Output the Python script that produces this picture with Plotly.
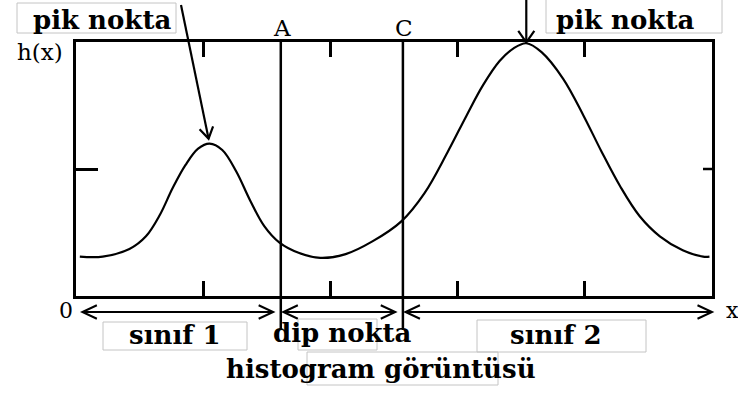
import math
import plotly.graph_objects as go

# ---- data -------------------------------------------------------------
curve_x = [0.03, 0.21, 0.42, 0.55, 0.66, 0.76, 0.86, 0.96, 1.05, 1.15, 1.26,
           1.37, 1.48, 1.60, 1.75, 1.92, 2.12, 2.33, 2.56, 2.74, 2.92, 3.07,
           3.20, 3.33, 3.44, 3.54, 3.66, 3.83, 3.99, 4.13, 4.28, 4.43, 4.59,
           4.77, 4.93, 4.98]
curve_h = [0.31, 0.31, 0.37, 0.47, 0.64, 0.85, 1.03, 1.16, 1.20, 1.15, 0.98,
           0.75, 0.55, 0.42, 0.34, 0.30, 0.33, 0.43, 0.59, 0.81, 1.13, 1.42,
           1.66, 1.85, 1.95, 1.99, 1.92, 1.71, 1.42, 1.14, 0.86, 0.63, 0.47,
           0.36, 0.31, 0.31]
x_ticks = [1, 2, 3, 4]
y_ticks = [1]
thresholds = [1.61, 2.57]
threshold_names = ["A", "C"]
class_spans = [(0.05, 1.55), (1.63, 2.51), (2.59, 5.0)]
class_names = ["sınıf 1", "dip nokta", "sınıf 2"]

X_RANGE = (0, 5)
Y_RANGE = (0, 2)

# ---- layout geometry (pixels) -----------------------------------------
W, H = 738, 394
L, R, T, B = 76, 712, 42, 296


def pix(x, y):
    """data -> pixel"""
    return (L + (x - X_RANGE[0]) / (X_RANGE[1] - X_RANGE[0]) * (R - L),
            B - (y - Y_RANGE[0]) / (Y_RANGE[1] - Y_RANGE[0]) * (B - T))


def paper(px, py):
    """pixel -> paper"""
    return (px - L) / (R - L), (B - py) / (B - T)


def pp(px, py):
    a, b = paper(px, py)
    return f"{a:.5f},{b:.5f}"


def chevron(tip, back, size=14, spread=28):
    """open V arrow head at tip, pointing away from back (pixel coords)"""
    dx, dy = back[0] - tip[0], back[1] - tip[1]
    n = math.hypot(dx, dy)
    ux, uy = dx / n, dy / n
    pts = []
    for s in (-1, 1):
        a = math.radians(spread * s)
        rx = ux * math.cos(a) - uy * math.sin(a)
        ry = ux * math.sin(a) + uy * math.cos(a)
        pts.append((tip[0] + rx * size, tip[1] + ry * size))
    return f"M {pp(*pts[0])} L {pp(*tip)} L {pp(*pts[1])}"


shapes = []


def seg(p0, p1, width=2):
    a = paper(*p0)
    b = paper(*p1)
    shapes.append(dict(type="line", xref="paper", yref="paper",
                       x0=a[0], y0=a[1], x1=b[0], y1=b[1],
                       line=dict(color="black", width=width)))


def head(tip, back, size=14, spread=28, width=2):
    shapes.append(dict(type="path", xref="paper", yref="paper",
                       path=chevron(tip, back, size, spread),
                       line=dict(color="black", width=width)))


def box(x0, y0, x1, y1):
    a = paper(x0, y1)
    b = paper(x1, y0)
    shapes.append(dict(type="rect", xref="paper", yref="paper",
                       x0=a[0], y0=a[1], x1=b[0], y1=b[1],
                       line=dict(color="#c4c4c4", width=1),
                       fillcolor="rgba(0,0,0,0)"))


# threshold lines A and C (run past the frame down through the class arrows)
for t in thresholds:
    xt, _ = pix(t, 0)
    seg((xt, T), (xt, 330), width=2.5)

# right-hand tick on the h(x) axis
for v in y_ticks:
    _, yv = pix(0, v)
    seg((R, yv), (R - 9, yv), width=2.5)

# class double arrows under the axis
arrow_y = 312
for a, b in class_spans:
    xa, _ = pix(a, 0)
    xb, _ = pix(b, 0)
    seg((xa, arrow_y), (xb, arrow_y), width=2)
    head((xa, arrow_y), (xb, arrow_y), size=16, spread=25)
    head((xb, arrow_y), (xa, arrow_y), size=16, spread=25)

# peak pointers
first = [i for i, x in enumerate(curve_x) if x < thresholds[0]]
i1 = max(first, key=lambda i: curve_h[i])
i2 = max(range(len(curve_h)), key=lambda i: curve_h[i])
tip1 = pix(curve_x[i1], curve_h[i1])
tip1 = (tip1[0] - 1, tip1[1] - 5)
start1 = (181, 5)
seg(start1, tip1, width=2.2)
head(tip1, start1, size=13, spread=32, width=2.2)

tip2 = pix(curve_x[i2], curve_h[i2])
tip2 = (tip2[0], tip2[1] - 1)
start2 = (tip2[0], -4)
seg(start2, tip2, width=2.2)
head(tip2, start2, size=14, spread=35, width=2.2)

# label boxes
box(17, 3, 176, 33)
box(546, -3, 722, 33)
box(103, 322, 247, 350)
box(298, 319, 377, 350)
box(477, 320, 646, 352)
box(307, 352, 498, 385)

# ---- text -------------------------------------------------------------
annotations = []


def label(text, px, py, size, bold=False):
    x, y = paper(px, py)
    annotations.append(dict(
        text=f"<b>{text}</b>" if bold else text,
        x=x, y=y, xref="paper", yref="paper",
        xanchor="center", yanchor="middle", showarrow=False,
        font=dict(family="DejaVu Serif", size=size, color="black")))


label("pik nokta", 102, 20, 26, bold=True)
label("pik nokta", 625, 20, 26, bold=True)
for t, name in zip(thresholds, threshold_names):
    xt, _ = pix(t, 0)
    label(name, xt + 1, 28, 23)
label("h(x)", 40, 52, 23)
label("0", 66, 310, 22)
label("x", 732, 310, 22)
label(class_names[0], 175, 335, 26, bold=True)
label(class_names[1], 342, 333, 26, bold=True)
label(class_names[2], 556, 335, 26, bold=True)
label("histogram görüntüsü", 381, 369, 26, bold=True)

# ---- figure -----------------------------------------------------------
fig = go.Figure()
fig.add_trace(go.Scatter(
    x=curve_x, y=curve_h, mode="lines",
    line=dict(color="black", width=2.2, shape="spline", smoothing=1.0),
    hoverinfo="skip", showlegend=False, cliponaxis=False))

fig.update_layout(
    width=W, height=H,
    margin=dict(l=L, r=W - R, t=T, b=H - B, pad=0),
    paper_bgcolor="white", plot_bgcolor="white",
    showlegend=False,
    xaxis=dict(range=list(X_RANGE), showgrid=False, zeroline=False,
               showline=True, linecolor="black", linewidth=3, mirror="ticks",
               ticks="inside", ticklen=15, tickwidth=2.5, tickcolor="black",
               tickvals=x_ticks, showticklabels=False, fixedrange=True),
    yaxis=dict(range=list(Y_RANGE), showgrid=False, zeroline=False,
               showline=True, linecolor="black", linewidth=3, mirror=True,
               ticks="inside", ticklen=22, tickwidth=2.5, tickcolor="black",
               tickvals=y_ticks, showticklabels=False, fixedrange=True),
    shapes=shapes,
    annotations=annotations,
)

fig.write_html("out.html")
